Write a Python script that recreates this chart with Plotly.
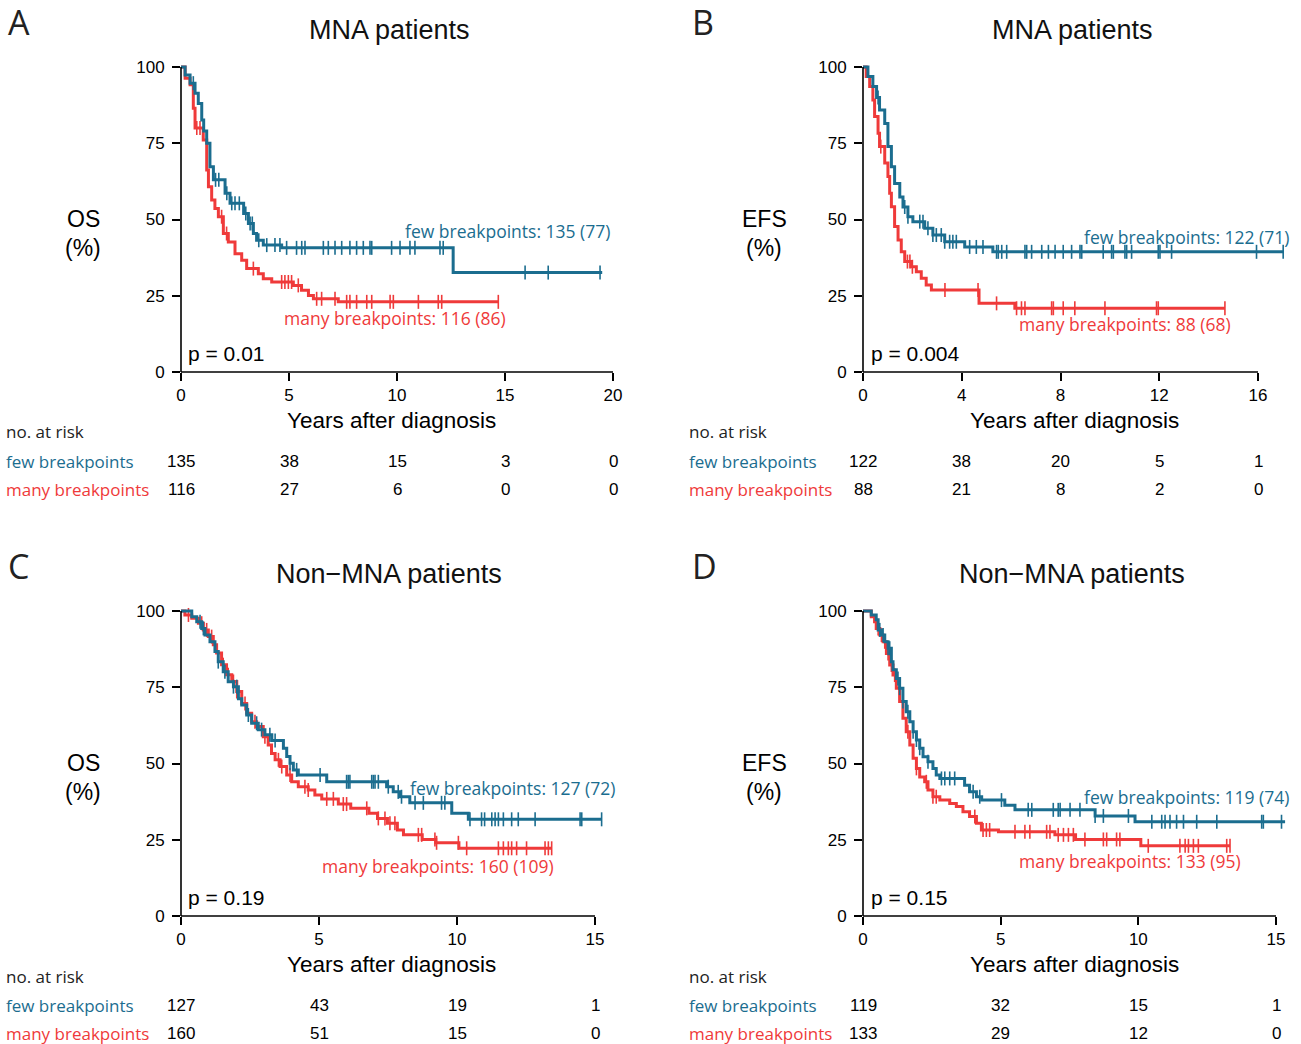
import plotly.graph_objects as go

W, H = 1301, 1044
BLUE = "#1b6d8f"
RED = "#ef3a3a"
SANS = "Liberation Sans, Arial, sans-serif"
HUM = "Open Sans, Noto Sans, sans-serif"

# ---------------- DATA ----------------
# Panel A: MNA patients, OS
a_few_t = [0, 0.19, 0.42, 0.65, 0.80, 0.96, 1.05, 1.19, 1.34, 1.50, 2.04, 2.27, 2.90, 3.12, 3.35, 3.50, 3.81, 4.66, 12.6, 19.5]
a_few_s = [100, 97.4, 94.7, 91.4, 88.0, 82.6, 79.0, 75.0, 67.3, 63.0, 58.6, 55.3, 52.0, 48.7, 45.4, 43.2, 41.6, 40.7, 32.6, 32.6]
a_few_c = [0.57, 1.6, 1.75, 2.12, 2.35, 2.5, 2.7, 3.0, 3.2, 3.3, 3.6, 3.97, 4.35, 4.58, 4.89, 5.35, 5.59, 5.74,
           6.59, 6.82, 7.13, 7.44, 7.82, 8.13, 8.44, 8.75, 8.83, 9.75, 10.14, 10.6, 10.83, 11.99, 12.14, 15.93, 17.0, 19.4]
a_many_t = [0, 0.19, 0.42, 0.57, 0.65, 1.03, 1.19, 1.27, 1.42, 1.57, 1.73, 1.96, 2.19, 2.5, 2.81, 3.04, 3.58, 3.81,
            4.2, 5.2, 5.58, 5.9, 6.13, 7.28, 14.69]
a_many_s = [100, 96.3, 94.2, 86.5, 80.0, 76.1, 66.2, 60.7, 56.4, 53.6, 50.9, 45.4, 42.6, 38.8, 36.6, 33.9, 32.2, 30.6,
            29.5, 28.4, 26.8, 25.1, 24.0, 23.0, 23.0]
a_many_c = [0.73, 0.88, 1.88, 2.11, 3.35, 4.66, 4.81, 4.97, 5.12, 5.43, 6.28, 6.51, 7.13, 7.67, 7.82, 8.13, 8.6, 8.83,
            9.68, 9.83, 10.99, 11.91, 12.07, 14.69]

# Panel B: MNA patients, EFS
b_few_t = [0, 0.2, 0.4, 0.55, 0.67, 0.88, 1.01, 1.15, 1.28, 1.49, 1.62, 1.82, 2.02, 2.5, 2.83, 3.31, 4.12, 5.26, 17.05]
b_few_s = [100, 96.9, 93.6, 90.0, 85.9, 81.5, 73.9, 67.3, 61.8, 57.4, 54.1, 50.9, 49.3, 47.1, 44.9, 42.7, 41.0, 39.4, 39.4]
b_few_c = [0.61, 1.69, 1.82, 2.3, 2.43, 2.63, 2.83, 2.97, 3.17, 3.31, 3.51, 3.64, 3.78, 4.32, 4.59, 4.86,
           5.41, 5.48, 5.62, 5.82, 6.56, 6.63, 6.83, 7.24, 7.51, 7.78, 8.11, 8.45, 8.79, 8.86, 9.73, 10.07, 10.14,
           10.61, 10.68, 10.88, 11.96, 12.03, 12.5, 15.94, 17.02]
b_many_t = [0, 0.13, 0.27, 0.4, 0.47, 0.61, 0.67, 0.88, 1.01, 1.08, 1.15, 1.28, 1.42, 1.55, 1.69, 1.96, 2.16, 2.36,
            2.56, 2.77, 4.7, 6.15, 14.66]
b_many_s = [100, 96.9, 93.6, 89.2, 83.8, 78.3, 73.9, 68.5, 64.1, 58.6, 54.2, 47.7, 43.3, 39.4, 36.2, 34.5, 32.9, 30.7,
            28.5, 26.9, 22.5, 20.9, 20.9]
b_many_c = [0.72, 1.8, 1.9, 2.0, 3.32, 4.66, 5.41, 6.22, 6.42, 6.56, 7.64, 7.71, 8.11, 8.58, 9.8, 11.89, 11.96, 14.66]

# Panel C: Non-MNA patients, OS
c_few_t = [0, 0.39, 0.57, 0.75, 0.87, 1.05, 1.23, 1.35, 1.53, 1.71, 1.9, 2.08, 2.2, 2.38, 2.56, 2.8, 3.04, 3.29, 3.71,
           3.83, 3.95, 4.07, 4.25, 5.28, 7.45, 7.69, 7.93, 8.29, 9.81, 10.41, 15.24]
c_few_s = [100, 98.1, 96.5, 94.3, 92.1, 89.9, 86.7, 83.4, 80.1, 76.8, 75.2, 71.2, 69.2, 65.9, 63.2, 61.1, 59.4, 57.5,
           55.0, 52.3, 50.1, 47.9, 46.2, 44.0, 42.4, 40.7, 39.1, 37.1, 33.7, 31.7, 31.7]
c_few_c = [0.69, 0.81, 1.35, 1.59, 1.9, 2.02, 2.44, 2.74, 2.92, 3.22, 3.41, 3.95, 4.19, 5.04, 6.0, 6.06, 6.12, 6.91,
           6.97, 7.03, 7.15, 7.51, 7.87, 7.99, 8.48, 8.78, 9.44, 9.56, 10.47, 10.89, 11.0, 11.26, 11.38, 11.5, 11.68,
           11.98, 12.22, 12.83, 14.46, 14.52, 15.24]
c_many_t = [0, 0.14, 0.39, 0.63, 0.81, 0.99, 1.17, 1.29, 1.47, 1.65, 1.84, 2.02, 2.2, 2.38, 2.56, 2.74, 2.98, 3.16,
            3.28, 3.41, 3.59, 3.83, 4.01, 4.25, 4.61, 4.85, 5.1, 5.7, 6.15, 6.81, 7.12, 7.48, 7.84, 8.06, 8.74, 9.23,
            10.07, 13.43]
c_many_s = [100, 98.7, 97.6, 96.0, 93.8, 91.6, 88.9, 86.2, 82.4, 79.1, 76.9, 73.6, 69.7, 66.5, 63.7, 62.1, 58.8, 56.1,
            53.3, 51.2, 49.0, 46.2, 44.0, 42.4, 41.3, 39.7, 38.4, 36.7, 35.3, 33.7, 32.0, 30.4, 28.2, 26.6, 25.1, 24.0,
            22.2, 22.2]
c_many_c = [0.27, 0.75, 0.93, 1.11, 1.53, 1.71, 1.9, 2.02, 2.32, 2.68, 3.04, 3.53, 3.65, 3.95, 4.49, 4.61, 5.28, 5.52,
            5.88, 6.0, 6.73, 7.15, 7.39, 7.57, 7.75, 8.6, 8.72, 9.2, 9.26, 10.05, 10.35, 11.5, 11.68, 11.86, 11.98,
            12.16, 12.52, 13.19, 13.31, 13.43]

# Panel D: Non-MNA patients, EFS
d_few_t = [0, 0.3, 0.48, 0.55, 0.67, 0.79, 0.91, 1.03, 1.09, 1.21, 1.33, 1.45, 1.57, 1.7, 1.82, 1.94, 2.06, 2.18,
           2.36, 2.54, 2.66, 2.79, 3.69, 3.87, 4.12, 4.31, 5.15, 5.52, 8.43, 9.88, 15.33]
d_few_s = [100, 98.7, 97.1, 93.8, 92.1, 89.9, 87.8, 83.4, 80.7, 77.9, 74.7, 70.3, 67.0, 63.7, 60.4, 57.7, 55.0, 52.2,
           50.6, 48.4, 46.2, 45.1, 42.9, 40.7, 39.1, 38.0, 36.3, 34.8, 32.8, 30.9, 30.9]
d_few_c = [0.61, 0.73, 0.91, 0.97, 1.27, 1.33, 1.45, 1.63, 1.82, 1.94, 2.06, 2.36, 2.85, 2.97, 3.15, 3.33, 4.0, 4.24,
           5.03, 6.0, 6.13, 6.91, 7.09, 7.16, 7.52, 7.88, 8.43, 8.73, 9.64, 10.49, 10.85, 10.97, 11.15, 11.39, 11.64,
           12.12, 12.85, 14.48, 14.54, 15.2]
d_many_t = [0, 0.3, 0.42, 0.48, 0.61, 0.73, 0.85, 0.97, 1.09, 1.21, 1.33, 1.45, 1.57, 1.7, 1.82, 1.94, 2.06, 2.24,
            2.36, 2.54, 2.79, 3.15, 3.39, 3.63, 3.87, 4.12, 4.3, 4.92, 6.97, 7.72, 10.09, 13.33]
d_many_s = [100, 98.1, 96.5, 94.3, 92.1, 89.9, 86.1, 82.3, 79.0, 74.7, 70.3, 64.8, 60.4, 56.1, 51.7, 48.4, 45.6, 44.0,
            41.3, 39.1, 38.0, 36.9, 35.9, 34.2, 32.6, 30.4, 28.2, 27.6, 26.6, 25.1, 23.0, 23.0]
d_many_c = [0.55, 0.67, 0.79, 0.91, 1.03, 1.15, 1.63, 1.94, 2.3, 2.54, 2.66, 4.06, 4.36, 4.48, 4.6, 5.52, 5.88, 6.06,
            6.67, 6.79, 7.09, 7.28, 7.46, 7.64, 8.06, 8.73, 8.85, 9.21, 9.33, 10.36, 11.51, 11.7, 11.82, 12.0, 12.18,
            13.21, 13.33]

titles = ["MNA patients", "MNA patients", "Non\u2212MNA patients", "Non\u2212MNA patients"]
letters = ["A", "B", "C", "D"]
ylabels = ["OS", "EFS", "OS", "EFS"]
pvalues = ["p = 0.01", "p = 0.004", "p = 0.19", "p = 0.15"]
few_labels = ["few breakpoints: 135 (77)", "few breakpoints: 122 (71)", "few breakpoints: 127 (72)", "few breakpoints: 119 (74)"]
many_labels = ["many breakpoints: 116 (86)", "many breakpoints: 88 (68)", "many breakpoints: 160 (109)", "many breakpoints: 133 (95)"]
xticks = [[0, 5, 10, 15, 20], [0, 4, 8, 12, 16], [0, 5, 10, 15], [0, 5, 10, 15]]
yticks = [0, 25, 50, 75, 100]
risk_few = [[135, 38, 15, 3, 0], [122, 38, 20, 5, 1], [127, 43, 19, 1], [119, 32, 15, 1]]
risk_many = [[116, 27, 6, 0, 0], [88, 21, 8, 2, 0], [160, 51, 15, 0], [133, 29, 12, 0]]

curves = [
    (a_few_t, a_few_s, a_few_c, a_many_t, a_many_s, a_many_c),
    (b_few_t, b_few_s, b_few_c, b_many_t, b_many_s, b_many_c),
    (c_few_t, c_few_s, c_few_c, c_many_t, c_many_s, c_many_c),
    (d_few_t, d_few_s, d_few_c, d_many_t, d_many_s, d_many_c),
]

# ---------------- LAYOUT GEOMETRY (window pixels) ----------------
geom = [
    dict(x0=181, x1=613, rmax=20.4, y0=372, y100=67, ox=0, oy=0),
    dict(x0=863, x1=1258, rmax=17.4, y0=372, y100=67, ox=683, oy=0),
    dict(x0=181, x1=595, rmax=15.5, y0=916, y100=611, ox=0, oy=544),
    dict(x0=863, x1=1276, rmax=15.5, y0=916, y100=611, ox=683, oy=544),
]
YMAX = 102


def fx(x):
    return x / W


def fy(y):
    return 1 - y / H


def step_at(ts, ss, t):
    v = ss[0]
    for ti, si in zip(ts, ss):
        if ti <= t:
            v = si
        else:
            break
    return v


fig = go.Figure()
layout = dict(template="none", width=W, height=H, margin=dict(l=0, r=0, t=0, b=0, pad=0),
              paper_bgcolor="white", plot_bgcolor="white", showlegend=False)
annotations = []
shapes = []

for i in range(4):
    g = geom[i]
    k = "" if i == 0 else str(i + 1)
    xa, ya = "x" + k, "y" + k
    lastt = xticks[i][-1]
    xscale = (g["x1"] - g["x0"]) / lastt
    yscale = (g["y0"] - g["y100"]) / 100.0
    xd = [fx(g["x0"]), fx(g["x0"] + g["rmax"] * xscale)]
    yd = [fy(g["y0"]), fy(g["y0"] - YMAX * yscale)]
    common = dict(ticks="outside", ticklen=8, tickwidth=1.5, tickcolor="black", showline=False,
                  showgrid=False, zeroline=False, automargin=False,
                  tickfont=dict(family=SANS, size=17, color="black"))
    layout["xaxis" + k] = dict(domain=xd, range=[0, g["rmax"]], anchor=ya, tickvals=xticks[i], **common)
    layout["yaxis" + k] = dict(domain=yd, range=[0, YMAX], anchor=xa, tickvals=yticks,
                               ticklabelstandoff=4, **common)
    # axis lines
    shapes.append(dict(type="line", xref=xa + " domain", yref=ya + " domain", x0=0, x1=lastt / g["rmax"],
                       y0=0, y1=0, line=dict(color="black", width=1.6)))
    shapes.append(dict(type="line", xref=xa + " domain", yref=ya + " domain", x0=0, x1=0,
                       y0=0, y1=100 / YMAX, line=dict(color="black", width=1.6)))

    ft, fs, fc, mt, ms, mc = curves[i]
    for (tt, ss, cc, col) in [(mt, ms, mc, RED), (ft, fs, fc, BLUE)]:
        fig.add_trace(go.Scatter(x=tt, y=ss, mode="lines", line=dict(color=col, width=3, shape="hv"),
                                 xaxis=xa, yaxis=ya, hoverinfo="skip"))
        fig.add_trace(go.Scatter(x=cc, y=[step_at(tt, ss, c) for c in cc], mode="markers",
                                 marker=dict(symbol="line-ns-open", size=10, color=col,
                                             line=dict(color=col, width=1.6)),
                                 xaxis=xa, yaxis=ya, cliponaxis=False, hoverinfo="skip"))

    ox, oy = g["ox"], g["oy"]

    def ann(text, x, y, size, color="black", family=SANS, xanchor="center"):
        annotations.append(dict(text=text, x=fx(x), y=fy(y), xref="paper", yref="paper", showarrow=False,
                                xanchor=xanchor, yanchor="middle", borderpad=0,
                                font=dict(family=family, size=size, color=color)))

    ann(letters[i], 7 + ox + (1 if i % 2 else 0), 22 + oy, 34, color="#222", family=HUM, xanchor="left")
    ann(titles[i], 389 + ox, 30 + oy, 27, color="#111")
    ann(ylabels[i], 83 + ox - (2 if i % 2 else 0), 219 + oy, 23)
    ann("(%)", 83 + ox - (2 if i % 2 else 0), 248 + oy, 23)
    ann("Years after diagnosis", 391 + ox, 420 + oy, 22.5)
    ann(pvalues[i], 187 + ox, 353 + oy, 21, xanchor="left")

    # curve labels
    few_pos = [(611, 231), (1290, 237), (616, 788), (1290, 797)][i]
    many_pos = [(507, 318), (1232, 324), (555, 866), (1242, 861)][i]
    ann(few_labels[i], few_pos[0], few_pos[1], 17.5, color=BLUE, family=HUM, xanchor="right")
    ann(many_labels[i], many_pos[0], many_pos[1], 17.5, color=RED, family=HUM, xanchor="right")

    # at-risk table
    ann("no. at risk", 5 + ox, 432 + oy, 17, color="#222", family=HUM, xanchor="left")
    ann("few breakpoints", 5 + ox, 461 + oy, 17, color=BLUE, family=HUM, xanchor="left")
    ann("many breakpoints", 5 + ox, 489 + oy, 17, color=RED, family=HUM, xanchor="left")
    for row, ypix in [(risk_few[i], 461 + oy), (risk_many[i], 489 + oy)]:
        for tv, n in zip(xticks[i], row):
            annotations.append(dict(text=str(n), x=tv, xref=xa, y=fy(ypix), yref="paper",
                                    showarrow=False, xanchor="center", yanchor="middle",
                                    font=dict(family=SANS, size=17, color="black")))

layout["annotations"] = annotations
layout["shapes"] = shapes
fig.update_layout(**layout)
fig.write_html("out.html", config={"displayModeBar": False},
               post_script="document.body.style.margin='0px';document.body.style.overflow='hidden';")
